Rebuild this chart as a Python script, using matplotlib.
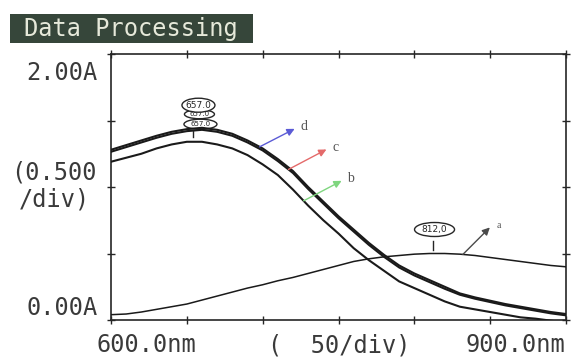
import numpy as np
import matplotlib
matplotlib.use("Agg")
import matplotlib.pyplot as plt
from matplotlib.patches import Ellipse, Rectangle

# wavelength grid (nm) and absorbance (A)
WAVELENGTH = [600, 610, 620, 630, 640, 650, 660, 670, 680, 690,
              700, 710, 720, 730, 740, 750, 760, 770, 780, 790,
              800, 810, 820, 830, 840, 850, 860, 870, 880, 890, 900]

CURVE_A = [0.04, 0.045, 0.06, 0.08, 0.10, 0.12, 0.15, 0.18, 0.21, 0.24,
           0.265, 0.295, 0.32, 0.35, 0.38, 0.41, 0.44, 0.46, 0.475, 0.485,
           0.495, 0.50, 0.50, 0.495, 0.485, 0.47, 0.455, 0.44, 0.425, 0.41, 0.40]

CURVE_B = [1.19, 1.22, 1.25, 1.29, 1.32, 1.34, 1.34, 1.32, 1.29, 1.24,
           1.17, 1.09, 0.98, 0.86, 0.75, 0.65, 0.54, 0.45, 0.37, 0.29,
           0.24, 0.19, 0.14, 0.10, 0.08, 0.06, 0.04, 0.02, 0.01, -0.005, -0.02]

CURVE_C = [1.265, 1.30, 1.335, 1.37, 1.40, 1.42, 1.43, 1.415, 1.385, 1.335,
           1.275, 1.195, 1.105, 0.985, 0.875, 0.765, 0.665, 0.565, 0.475, 0.395,
           0.335, 0.285, 0.235, 0.19, 0.16, 0.135, 0.11, 0.09, 0.07, 0.05, 0.035]

CURVE_D = [1.28, 1.315, 1.35, 1.385, 1.415, 1.435, 1.445, 1.43, 1.40, 1.35,
           1.29, 1.21, 1.12, 1.00, 0.89, 0.78, 0.68, 0.58, 0.49, 0.41,
           0.35, 0.30, 0.25, 0.20, 0.17, 0.145, 0.12, 0.10, 0.08, 0.06, 0.045]

CURVE_NAMES = ["a", "b", "c", "d"]
ARROW_WL = [832, 727, 717, 698]
ARROW_COLORS = ["#4a4a4a", "#7fd67f", "#e46a6a", "#5b5bd6"]

PEAK_LABELS = ["657.0", "812,0"]

X_TICKS = [600, 650, 700, 750, 800, 850, 900]
Y_TICKS = [0.0, 0.5, 1.0, 1.5, 2.0]

W, H = 576, 358
INK = "#262626"
MONO = "DejaVu Sans Mono"

fig = plt.figure(figsize=(W / 100, H / 100), dpi=100)
fig.patch.set_facecolor("white")


def fx(px):
    return px / W


def fy(py):
    return 1 - py / H


ax = fig.add_axes([fx(111), fy(320), fx(566) - fx(111), fy(54) - fy(320)])
ax.set_xlim(X_TICKS[0], X_TICKS[-1])
ax.set_ylim(Y_TICKS[0], Y_TICKS[-1])
ax.set_xticks(X_TICKS)
ax.set_yticks(Y_TICKS)
ax.tick_params(which="both", direction="inout", length=6, width=1.0,
               color=INK, top=True, right=True,
               labelbottom=False, labelleft=False)
for sp in ax.spines.values():
    sp.set_color(INK)
    sp.set_linewidth(1.2)

curves = [CURVE_A, CURVE_B, CURVE_C, CURVE_D]
widths = [1.1, 1.5, 1.5, 1.5]
for vals, lw in zip(curves, widths):
    ax.plot(WAVELENGTH, vals, color="#1a1a1a", lw=lw, zorder=3,
            solid_joinstyle="round")

# arrows with curve letters
arrow_offsets = [(27, 27), (38, 20), (38, 20), (35, 18)]
for name, wl, col, vals, (dx, dy) in zip(CURVE_NAMES, ARROW_WL, ARROW_COLORS,
                                        curves, arrow_offsets):
    y0 = np.interp(wl, WAVELENGTH, vals)
    ax.annotate("", xy=(wl, y0), xytext=(dx, dy), textcoords="offset pixels",
                arrowprops=dict(arrowstyle="<|-", color=col, lw=1.0,
                                shrinkA=0, shrinkB=0, mutation_scale=11),
                zorder=4)
    size = 7 if name == "a" else 10
    ax.annotate(name, xy=(wl, y0), xytext=(dx + 9, dy + 2),
                textcoords="offset pixels", ha="center", va="center",
                fontsize=size, family="Liberation Serif", color="#555555")

# peak markers
nm_px = 300 / 455
a_px = 2.0 / 266

peak_sets = [
    (PEAK_LABELS[0], CURVE_D, [(3, 4, 33, 10, 2), (2, 14, 30, 9, 4), (1, 23, 33, 14, 5)]),
    (PEAK_LABELS[1], CURVE_A, [(2, 24, 40, 14, 5)]),
]
for label, vals, shapes in peak_sets:
    pk = float(label.replace(",", "."))
    y_pk = np.interp(pk, WAVELENGTH, vals)
    for ox, oy, w, h, z in shapes:
        cx = pk + ox * nm_px
        cy = y_pk + oy * a_px
        ax.add_patch(Ellipse((cx, cy), w * nm_px, h * a_px, facecolor="white",
                             edgecolor=INK, lw=1.0, zorder=z))
        ax.text(cx, cy, label, ha="center", va="center",
                fontsize=6.5 if h > 12 else 5, color=INK, zorder=z + 0.1)
    if vals is CURVE_A:
        ax.plot([pk, pk], [y_pk + 4 * a_px, y_pk + 13 * a_px], color=INK, lw=1.0, zorder=4)
    else:
        ax.plot([pk - 3, pk - 3], [y_pk - 3 * a_px, y_pk - 9 * a_px], color=INK, lw=1.0, zorder=4)

# title bar
fig.add_artist(Rectangle((fx(10), fy(43)), fx(253) - fx(10), fy(14) - fy(43),
                         transform=fig.transFigure, facecolor="#36463a",
                         edgecolor="none"))
fig.text(fx(24), fy(36), "Data Processing", family=MONO, fontsize=17,
         color="#e6e9da", ha="left", va="baseline")

# axis texts
txt = dict(family=MONO, fontsize=17, color="#3a3a3a")
fig.text(fx(98), fy(80), "2.00A", ha="right", va="baseline", **txt)
fig.text(fx(98), fy(315), "0.00A", ha="right", va="baseline", **txt)
fig.text(fx(54), fy(186), "(0.500\n/div)", ha="center", va="center",
         multialignment="center", linespacing=1.15, **txt)
fig.text(fx(97), fy(352), "600.0nm", ha="left", va="baseline", **txt)
fig.text(fx(339), fy(352), "(  50/div)", ha="center", va="baseline", **txt)
fig.text(fx(565), fy(352), "900.0nm", ha="right", va="baseline", **txt)

fig.savefig("out.png", dpi=100)
